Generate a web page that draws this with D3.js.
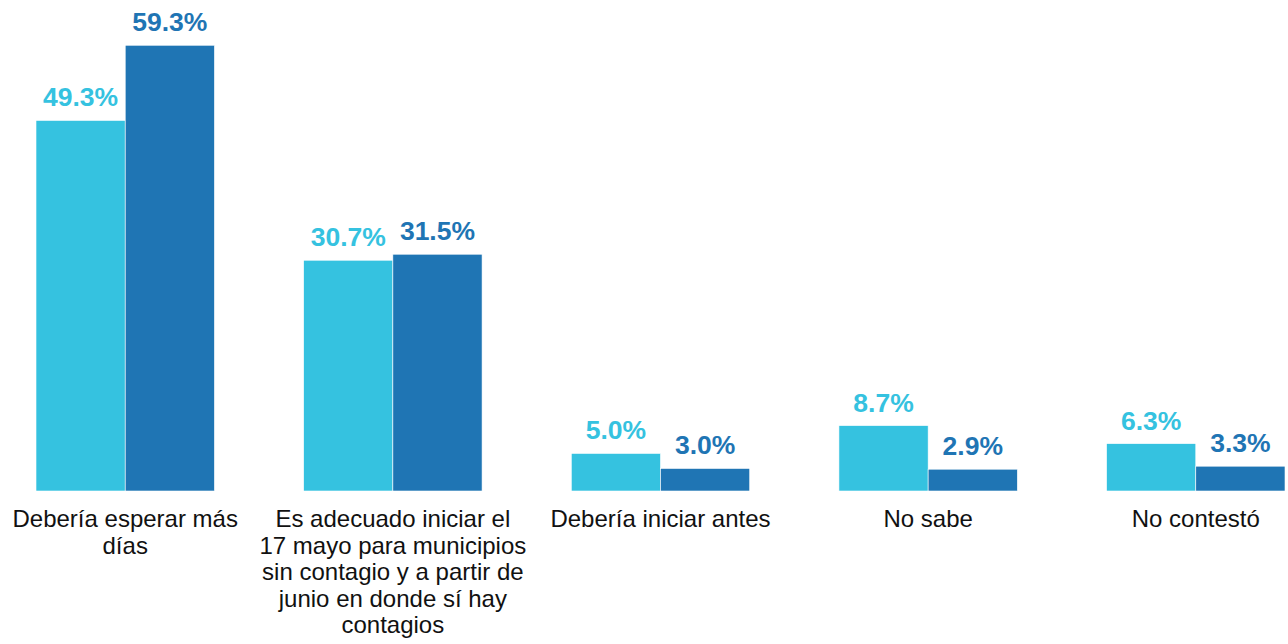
<!DOCTYPE html>
<html>
<head>
<meta charset="utf-8">
<script src="https://cdn.jsdelivr.net/npm/d3@7"></script>
<style>
    body { margin: 0; background: #ffffff; }
    svg { display: block; font-family: "Liberation Sans", Arial, sans-serif; }
    .value { font-weight: bold; font-size: 26.5px; }
    .category { font-size: 24px; fill: #111111; }
</style>
</head>
<body>
<svg id="svgChart" width="1288" height="644"></svg>
<script>
// Category labels, already split into lines as in the picture
var categories = [
    ["Debería esperar más", "días"],
    ["Es adecuado iniciar el", "17 mayo para municipios", "sin contagio y a partir de", "junio en donde sí hay", "contagios"],
    ["Debería iniciar antes"],
    ["No sabe"],
    ["No contestó"]
];

// Percentages for the two series (light and dark bars)
var seriesLight = [49.3, 30.7, 5.0, 8.7, 6.3];
var seriesDark = [59.3, 31.5, 3.0, 2.9, 3.3];

var seriesNames = ["light", "dark"];
var seriesColours = ["#35c2e0", "#1f75b4"];

function barChart() {
    /*
    Draws the grouped bar chart
    */

    var svg = d3.select("#svgChart");

    var baseline = 491;

    // Scale for the category groups
    var xGroup = d3.scaleBand()
        .domain(d3.range(categories.length))
        .range([36, 1285])
        .paddingInner(1 / 3)
        .paddingOuter(0);

    // Scale for the bars inside one group
    var xSeries = d3.scaleBand()
        .domain(seriesNames)
        .range([0, xGroup.bandwidth()]);

    // Scale for the percentages
    var yScale = d3.scaleLinear()
        .domain([0, 60])
        .range([baseline, 40]);

    var colour = d3.scaleOrdinal()
        .domain(seriesNames)
        .range(seriesColours);

    var rows = categories.map(function(cat, i) {
        return [
            { series: "light", value: seriesLight[i] },
            { series: "dark", value: seriesDark[i] }
        ];
    });

    var groups = svg.selectAll(".group")
        .data(rows)
        .enter()
        .append("g")
            .attr("class", "group")
            .attr("transform", function(d, i) {
                return `translate(${xGroup(i)}, 0)`;
            });

    // Draw the bars
    groups.selectAll(".bar")
        .data(function(d) { return d; })
        .enter()
        .append("rect")
            .attr("class", "bar")
            .attr("x", function(d) { return xSeries(d.series); })
            .attr("y", function(d) { return yScale(d.value); })
            .attr("width", xSeries.bandwidth())
            .attr("height", function(d) { return baseline - yScale(d.value); })
            .attr("fill", function(d) { return colour(d.series); })
            .attr("stroke", "#ffffff")
            .attr("stroke-width", 0.6);

    // Draw the value labels
    groups.selectAll(".value")
        .data(function(d) { return d; })
        .enter()
        .append("text")
            .attr("class", "value")
            .attr("x", function(d) { return xSeries(d.series) + xSeries.bandwidth() / 2; })
            .attr("y", function(d) { return yScale(d.value) - 14; })
            .attr("text-anchor", "middle")
            .attr("fill", function(d) { return colour(d.series); })
            .text(function(d) { return d.value.toFixed(1) + "%"; });

    // Draw the category labels
    var labels = svg.selectAll(".category")
        .data(categories)
        .enter()
        .append("text")
            .attr("class", "category")
            .attr("text-anchor", "middle")
            .attr("x", function(d, i) { return xGroup(i) + xGroup.bandwidth() / 2; })
            .attr("y", 527);

    labels.selectAll("tspan")
        .data(function(d) { return d; })
        .enter()
        .append("tspan")
            .attr("x", function() { return d3.select(this.parentNode).attr("x"); })
            .attr("dy", function(d, j) { return j === 0 ? 0 : 26.5; })
            .text(function(d) { return d; });
};

barChart();
</script>
</body>
</html>
